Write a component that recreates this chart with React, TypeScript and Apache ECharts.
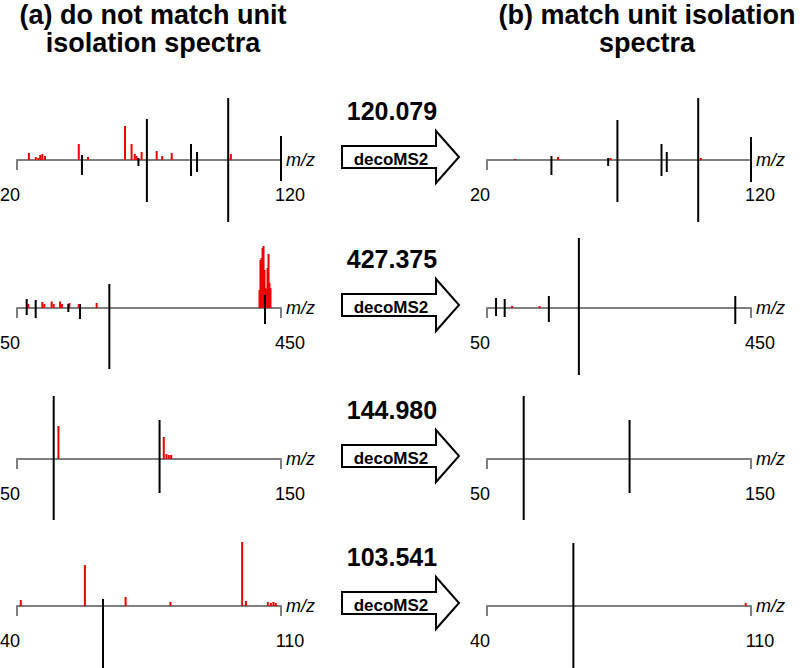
import React, { useEffect, useRef } from "react";
import * as echarts from "echarts";

// ---- data (m/z, relative intensity) ----
const precursorLabels = ["120.079", "427.375", "144.980", "103.541"];
const xMins = [20, 50, 50, 40];
const xMaxs = [120, 450, 150, 110];

// red peaks: [m/z, height]
const a1Red = [[24.5, 7], [27.1, 3], [28.1, 2], [28.8, 5], [29.6, 6], [30.6, 4], [43.4, 16], [46.9, 3], [60.9, 34], [63.4, 16], [64.6, 6], [65.3, 4], [67.2, 8], [72.9, 9], [75.0, 4], [78.6, 7], [101.0, 6]];
const b1Red = [[30.6, 1], [46.9, 3], [66.8, 2], [101.0, 2]];
const a2Red = [[67.1, 4], [88.4, 6], [91.4, 4], [102.5, 6.5], [105.5, 4], [115.2, 6.5], [118.2, 4], [129.3, 5], [143.5, 4], [170.7, 5],
  [417.4, 18], [418.9, 48], [420.5, 50], [422.0, 60], [423.5, 62], [425.0, 38], [426.5, 20], [428.0, 18], [429.5, 40], [431.1, 54], [432.6, 25], [434.1, 20]];
const b2Red = [[88.0, 2], [129.5, 2]];
const a3Red = [[65.7, 33], [105.6, 22], [106.6, 5], [107.5, 4], [108.4, 4]];
const b3Red: number[][] = [];
const a4Red = [[41.0, 6], [58.0, 41], [68.8, 9], [80.7, 4], [99.7, 64], [100.7, 5], [106.5, 4], [107.3, 3], [108.0, 4], [108.6, 3]];
const b4Red = [[108.6, 3]];

// black peaks: [m/z, up, down]
const a1Black = [[44.6, 5, 15], [66.0, 2, 6], [69.2, 41, 42], [85.9, 16, 16], [88.2, 8, 12], [100.0, 62, 62], [120.0, 24, 21]];
const b1Black = [[44.4, 4, 15], [65.9, 2, 6], [69.4, 40, 42], [86.1, 16, 16], [88.1, 8, 12], [100.0, 62, 62], [120.0, 23, 22]];
const a2Black = [[64.7, 9, 7], [78.3, 8, 10], [127.8, 4, 4], [145.5, 4, 11], [189.9, 24, 61], [425.8, 13, 16]];
const b2Black = [[63.7, 10, 8], [76.8, 9, 9], [143.7, 12, 14], [189.2, 70, 67], [426.2, 12, 16]];
const a3Black = [[63.9, 63, 61], [104.0, 39, 34]];
const b3Black = [[63.9, 63, 61], [104.0, 39, 34]];
const a4Black = [[62.8, 7, 64]];
const b4Black = [[62.9, 63, 64]];

const redSets = [a1Red, b1Red, a2Red, b2Red, a3Red, b3Red, a4Red, b4Red];
const blackSets = [a1Black, b1Black, a2Black, b2Black, a3Black, b3Black, a4Black, b4Black];

const axisYs = [160, 308, 459, 606];
const FONT = '"Liberation Sans", Arial, Helvetica, sans-serif';

function lineRenderer(color: string) {
  return (params: any, api: any) => {
    const x = api.value(0);
    const p1 = api.coord([x, api.value(1)]);
    const p2 = api.coord([x, api.value(2)]);
    return {
      type: "line",
      shape: { x1: p1[0], y1: p1[1], x2: p2[0], y2: p2[1] },
      style: { stroke: color, lineWidth: 2 },
    };
  };
}

export default function App() {
  const ref = useRef<HTMLDivElement>(null);
  useEffect(() => {
    if (!ref.current) return;
    const chart = echarts.init(ref.current, undefined, { renderer: "svg" });
    const grids: any[] = [];
    const xAxes: any[] = [];
    const yAxes: any[] = [];
    const series: any[] = [];
    for (let row = 0; row < 4; row++) {
      for (let col = 0; col < 2; col++) {
        const i = row * 2 + col;
        const min = xMins[row];
        const max = xMaxs[row];
        grids.push({
          left: col === 0 ? 17 : 487,
          width: 264,
          top: axisYs[row] - 100,
          height: 100,
          containLabel: false,
          outerBoundsMode: "none",
        });
        xAxes.push({
          gridIndex: i,
          type: "value",
          min,
          max,
          position: "bottom",
          axisLine: { show: true, onZero: false, lineStyle: { color: "#7f7f7f", width: 2 } },
          axisTick: { show: true, length: 10, lineStyle: { color: "#7f7f7f", width: 2 }, customValues: [min, max] },
          axisLabel: {
            customValues: [min, max],
            color: "#000",
            fontSize: 18,
            fontFamily: FONT,
            margin: 26,
            formatter: (v: number) => (v === min ? `{l|${v}}` : `{r|${v}}`),
            rich: {
              l: { fontSize: 18, fontFamily: FONT, color: "#000", padding: [0, 14, 0, 0] },
              r: { fontSize: 18, fontFamily: FONT, color: "#000", padding: [0, 0, 0, 18] },
            },
          },
          splitLine: { show: false },
          name: "m/z",
          nameLocation: "end",
          nameGap: 5,
          nameTextStyle: { fontStyle: "italic", fontSize: 18, color: "#000", fontFamily: FONT },
        });
        yAxes.push({ gridIndex: i, type: "value", min: 0, max: 100, show: false });
        series.push({
          type: "custom",
          xAxisIndex: i,
          yAxisIndex: i,
          z: 2,
          clip: false,
          renderItem: lineRenderer("#ee0000"),
          encode: { x: 0, y: [1, 2] },
          data: redSets[i].map((d) => [d[0], 0, d[1]]),
        });
        series.push({
          type: "custom",
          xAxisIndex: i,
          yAxisIndex: i,
          z: 3,
          clip: false,
          renderItem: lineRenderer("#000000"),
          encode: { x: 0, y: [1, 2] },
          data: blackSets[i].map((d) => [d[0], -d[2], d[1]]),
        });
      }
    }

    const graphic: any[] = [
      { type: "text", x: 153, y: 14.5, style: { text: "(a) do not match unit", font: `bold 27px ${FONT}`, fill: "#000", align: "center", verticalAlign: "middle" } },
      { type: "text", x: 153, y: 42.5, style: { text: "isolation spectra", font: `bold 27px ${FONT}`, fill: "#000", align: "center", verticalAlign: "middle" } },
      { type: "text", x: 647, y: 14.5, style: { text: "(b) match unit isolation", font: `bold 27px ${FONT}`, fill: "#000", align: "center", verticalAlign: "middle" } },
      { type: "text", x: 647, y: 42.5, style: { text: "spectra", font: `bold 27px ${FONT}`, fill: "#000", align: "center", verticalAlign: "middle" } },
    ];
    for (let row = 0; row < 4; row++) {
      const ay = axisYs[row];
      const c = ay - 3;
      graphic.push({
        type: "text",
        x: 392,
        y: ay - 49,
        style: { text: precursorLabels[row], font: `bold 25px ${FONT}`, fill: "#000", align: "center", verticalAlign: "middle" },
      });
      graphic.push({
        type: "polygon",
        shape: {
          points: [[342, c - 11], [436, c - 11], [436, c - 26], [459, c], [436, c + 26], [436, c + 11], [342, c + 11]],
        },
        style: { fill: "#fff", stroke: "#000", lineWidth: 2 },
      });
      graphic.push({
        type: "text",
        x: 391,
        y: ay - 1,
        style: { text: "decoMS2", font: `bold 17px ${FONT}`, fill: "#000", align: "center", verticalAlign: "middle" },
      });
    }

    chart.setOption({
      animation: false,
      backgroundColor: "#fff",
      grid: grids,
      xAxis: xAxes,
      yAxis: yAxes,
      series,
      graphic,
    });
    return () => chart.dispose();
  }, []);
  return <div ref={ref} style={{ position: "fixed", left: 0, top: 0, width: 800, height: 668 }} />;
}
